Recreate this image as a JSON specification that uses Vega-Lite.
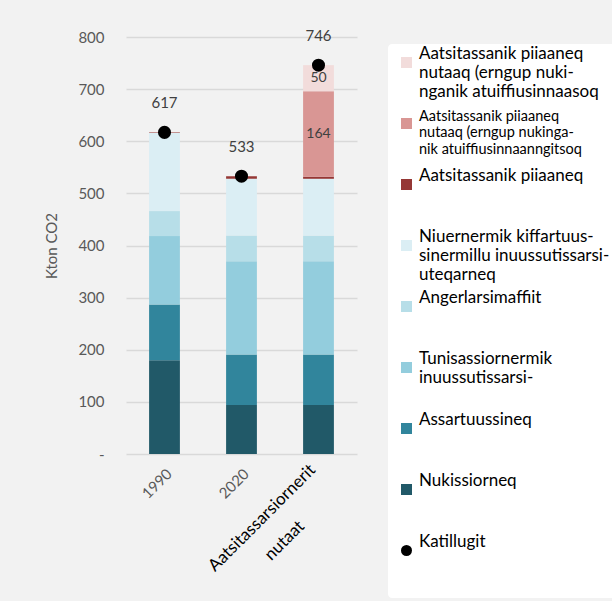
{
  "$schema": "https://vega.github.io/schema/vega-lite/v6.json",
  "width": 231,
  "height": 417,
  "autosize": {"type": "none"},
  "padding": {"left": 126, "top": 37, "right": 255, "bottom": 147},
  "background": "#f2f2f2",
  "config": {"font": "Lato", "view": {"stroke": null}},
  "datasets": {
    "bars": [
      {"cat": "1990", "series": "Nukissiorneq", "k": 1, "value": 180},
      {"cat": "1990", "series": "Assartuussineq", "k": 2, "value": 107},
      {"cat": "1990", "series": "Tunisassiornermik inuussutissarsi-", "k": 3, "value": 131},
      {"cat": "1990", "series": "Angerlarsimaffiit", "k": 4, "value": 48},
      {"cat": "1990", "series": "Niuernermik kiffartuussinermillu inuussutissarsiuteqarneq", "k": 5, "value": 150},
      {"cat": "1990", "series": "Aatsitassanik piiaaneq", "k": 6, "value": 1},
      {"cat": "2020", "series": "Nukissiorneq", "k": 1, "value": 94},
      {"cat": "2020", "series": "Assartuussineq", "k": 2, "value": 97},
      {"cat": "2020", "series": "Tunisassiornermik inuussutissarsi-", "k": 3, "value": 179},
      {"cat": "2020", "series": "Angerlarsimaffiit", "k": 4, "value": 49},
      {"cat": "2020", "series": "Niuernermik kiffartuussinermillu inuussutissarsiuteqarneq", "k": 5, "value": 109},
      {"cat": "2020", "series": "Aatsitassanik piiaaneq", "k": 6, "value": 5},
      {"cat": "Aatsitassarsiornerit nutaat", "series": "Nukissiorneq", "k": 1, "value": 94},
      {"cat": "Aatsitassarsiornerit nutaat", "series": "Assartuussineq", "k": 2, "value": 97},
      {"cat": "Aatsitassarsiornerit nutaat", "series": "Tunisassiornermik inuussutissarsi-", "k": 3, "value": 179},
      {"cat": "Aatsitassarsiornerit nutaat", "series": "Angerlarsimaffiit", "k": 4, "value": 49},
      {"cat": "Aatsitassarsiornerit nutaat", "series": "Niuernermik kiffartuussinermillu inuussutissarsiuteqarneq", "k": 5, "value": 109},
      {"cat": "Aatsitassarsiornerit nutaat", "series": "Aatsitassanik piiaaneq", "k": 6, "value": 4},
      {"cat": "Aatsitassarsiornerit nutaat", "series": "Aatsitassanik piiaaneq nutaaq (erngup nukinganik atuiffiusinnaanngitsoq", "k": 7, "value": 164},
      {"cat": "Aatsitassarsiornerit nutaat", "series": "Aatsitassanik piiaaneq nutaaq (erngup nukinganik atuiffiusinnaasoq", "k": 8, "value": 50}
    ],
    "totals": [
      {"cat": "1990", "series": "Katillugit", "total": 617},
      {"cat": "2020", "series": "Katillugit", "total": 533},
      {"cat": "Aatsitassarsiornerit nutaat", "series": "Katillugit", "total": 746}
    ]
  },
  "layer": [
    {
      "data": {"name": "bars"},
      "mark": {"type": "bar"},
      "encoding": {
        "x": {
          "field": "cat", "type": "nominal", "title": null,
          "sort": ["1990", "2020", "Aatsitassarsiornerit nutaat"],
          "scale": {"paddingInner": 0.6, "paddingOuter": 0.3},
          "axis": {
            "labelAngle": -45, "domain": false, "ticks": false,
            "labelLineHeight": 32, "labelOverlap": false, "labelBound": false, "labelLimit": 400,
            "labelExpr": "datum.value == 'Aatsitassarsiornerit nutaat' ? ['Aatsitassarsiornerit', 'nutaat'] : datum.label",
            "labelFontSize": {"condition": {"test": "datum.value == 'Aatsitassarsiornerit nutaat'", "value": 17}, "value": 15},
            "labelColor": {"condition": {"test": "datum.value == 'Aatsitassarsiornerit nutaat'", "value": "#000000"}, "value": "#595959"},
            "labelAlign": {"condition": {"test": "datum.value == 'Aatsitassarsiornerit nutaat'", "value": "center"}, "value": "right"},
            "labelOffset": {"condition": {"test": "datum.value == 'Aatsitassarsiornerit nutaat'", "value": -62}, "value": 0},
            "labelPadding": {"condition": {"test": "datum.value == 'Aatsitassarsiornerit nutaat'", "value": 58}, "value": 12}
          }
        },
        "y": {
          "field": "value", "type": "quantitative", "stack": "zero", "title": "Kton CO2",
          "scale": {"domain": [0, 800], "nice": false},
          "axis": {
            "domain": false, "ticks": false, "grid": true, "gridColor": "#d9d9d9", "gridWidth": 1.5,
            "values": [0, 100, 200, 300, 400, 500, 600, 700, 800],
            "labelFontSize": 15, "labelColor": "#595959", "labelPadding": 22,
            "labelExpr": "datum.value == 0 ? '-' : datum.label",
            "titleFontSize": 15, "titleFontWeight": "normal", "titleColor": "#595959", "titlePadding": 18
          }
        },
        "color": {
          "field": "series", "type": "nominal",
          "scale": {
            "domain": [
              "Aatsitassanik piiaaneq nutaaq (erngup nukinganik atuiffiusinnaasoq",
              "Aatsitassanik piiaaneq nutaaq (erngup nukinganik atuiffiusinnaanngitsoq",
              "Aatsitassanik piiaaneq",
              "Niuernermik kiffartuussinermillu inuussutissarsiuteqarneq",
              "Angerlarsimaffiit",
              "Tunisassiornermik inuussutissarsi-",
              "Assartuussineq",
              "Nukissiorneq",
              "Katillugit"
            ],
            "range": ["#f2dcdb", "#d99694", "#953735", "#dbeef4", "#b7dee8", "#93cddd", "#31859c", "#215968", "#000000"]
          },
          "legend": {
            "title": null, "orient": "none", "legendX": 262, "legendY": 7, "padding": 10, "gridAlign": "all",
            "fillColor": "#ffffff", "cornerRadius": 4, "symbolSize": 121, "symbolStrokeWidth": 0,
            "labelFontSize": {"expr": "datum.value == 'Aatsitassanik piiaaneq nutaaq (erngup nukinganik atuiffiusinnaanngitsoq' ? 14.5 : 17"},
            "labelBaseline": "bottom",
            "labelColor": "#000000", "labelOffset": 4, "labelLimit": 300, "rowPadding": 5,
            "labelExpr": "datum.label == 'Aatsitassanik piiaaneq nutaaq (erngup nukinganik atuiffiusinnaasoq' ? ['Aatsitassanik piiaaneq', 'nutaaq (erngup nuki-', 'nganik atuiffiusinnaasoq'] : datum.label == 'Aatsitassanik piiaaneq nutaaq (erngup nukinganik atuiffiusinnaanngitsoq' ? ['Aatsitassanik piiaaneq', 'nutaaq (erngup nukinga-', 'nik atuiffiusinnaanngitsoq'] : datum.label == 'Niuernermik kiffartuussinermillu inuussutissarsiuteqarneq' ? ['Niuernermik kiffartuus-', 'sinermillu inuussutissarsi-', 'uteqarneq'] : datum.label == 'Tunisassiornermik inuussutissarsi-' ? ['Tunisassiornermik', 'inuussutissarsi-', ''] : [datum.label, '', '']"
          }
        },
        "order": {"field": "k", "type": "quantitative"}
      }
    },
    {
      "data": {"name": "totals"},
      "mark": {"type": "point", "filled": true, "size": 170, "opacity": 1},
      "encoding": {
        "x": {"field": "cat", "type": "nominal", "title": null, "sort": ["1990", "2020", "Aatsitassarsiornerit nutaat"]},
        "y": {"field": "total", "type": "quantitative", "title": "Kton CO2"},
        "color": {
          "field": "series", "type": "nominal",
          "legend": {
            "title": null, "orient": "none", "legendX": 262, "legendY": 7, "padding": 10, "gridAlign": "all",
            "fillColor": "#ffffff", "cornerRadius": 4, "symbolSize": 121, "symbolStrokeWidth": 0,
            "labelFontSize": {"expr": "datum.value == 'Aatsitassanik piiaaneq nutaaq (erngup nukinganik atuiffiusinnaanngitsoq' ? 14.5 : 17"},
            "labelBaseline": "bottom",
            "labelColor": "#000000", "labelOffset": 4, "labelLimit": 300, "rowPadding": 5,
            "labelExpr": "datum.label == 'Aatsitassanik piiaaneq nutaaq (erngup nukinganik atuiffiusinnaasoq' ? ['Aatsitassanik piiaaneq', 'nutaaq (erngup nuki-', 'nganik atuiffiusinnaasoq'] : datum.label == 'Aatsitassanik piiaaneq nutaaq (erngup nukinganik atuiffiusinnaanngitsoq' ? ['Aatsitassanik piiaaneq', 'nutaaq (erngup nukinga-', 'nik atuiffiusinnaanngitsoq'] : datum.label == 'Niuernermik kiffartuussinermillu inuussutissarsiuteqarneq' ? ['Niuernermik kiffartuus-', 'sinermillu inuussutissarsi-', 'uteqarneq'] : datum.label == 'Tunisassiornermik inuussutissarsi-' ? ['Tunisassiornermik', 'inuussutissarsi-', ''] : [datum.label, '', '']"
          }
        },
        "shape": {
          "field": "series", "type": "nominal",
          "scale": {
            "domain": [
              "Aatsitassanik piiaaneq nutaaq (erngup nukinganik atuiffiusinnaasoq",
              "Aatsitassanik piiaaneq nutaaq (erngup nukinganik atuiffiusinnaanngitsoq",
              "Aatsitassanik piiaaneq",
              "Niuernermik kiffartuussinermillu inuussutissarsiuteqarneq",
              "Angerlarsimaffiit",
              "Tunisassiornermik inuussutissarsi-",
              "Assartuussineq",
              "Nukissiorneq",
              "Katillugit"
            ],
            "range": ["square", "square", "square", "square", "square", "square", "square", "square", "circle"]
          },
          "legend": {
            "title": null, "orient": "none", "legendX": 262, "legendY": 7, "padding": 10, "gridAlign": "all",
            "fillColor": "#ffffff", "cornerRadius": 4, "symbolSize": 121, "symbolStrokeWidth": 0,
            "labelFontSize": {"expr": "datum.value == 'Aatsitassanik piiaaneq nutaaq (erngup nukinganik atuiffiusinnaanngitsoq' ? 14.5 : 17"},
            "labelBaseline": "bottom",
            "labelColor": "#000000", "labelOffset": 4, "labelLimit": 300, "rowPadding": 5,
            "labelExpr": "datum.label == 'Aatsitassanik piiaaneq nutaaq (erngup nukinganik atuiffiusinnaasoq' ? ['Aatsitassanik piiaaneq', 'nutaaq (erngup nuki-', 'nganik atuiffiusinnaasoq'] : datum.label == 'Aatsitassanik piiaaneq nutaaq (erngup nukinganik atuiffiusinnaanngitsoq' ? ['Aatsitassanik piiaaneq', 'nutaaq (erngup nukinga-', 'nik atuiffiusinnaanngitsoq'] : datum.label == 'Niuernermik kiffartuussinermillu inuussutissarsiuteqarneq' ? ['Niuernermik kiffartuus-', 'sinermillu inuussutissarsi-', 'uteqarneq'] : datum.label == 'Tunisassiornermik inuussutissarsi-' ? ['Tunisassiornermik', 'inuussutissarsi-', ''] : [datum.label, '', '']"
          }
        }
      }
    },
    {
      "data": {"name": "totals"},
      "mark": {"type": "text", "dy": -29, "fontSize": 15, "color": "#404040", "baseline": "middle"},
      "encoding": {
        "x": {"field": "cat", "type": "nominal", "title": null, "sort": ["1990", "2020", "Aatsitassarsiornerit nutaat"]},
        "y": {"field": "total", "type": "quantitative", "title": "Kton CO2"},
        "text": {"field": "total", "type": "quantitative"}
      }
    },
    {
      "data": {"name": "bars"},
      "mark": {"type": "text", "dy": 13, "fontSize": 14, "color": "#404040", "baseline": "middle"},
      "encoding": {
        "x": {"field": "cat", "type": "nominal", "title": null, "sort": ["1990", "2020", "Aatsitassarsiornerit nutaat"]},
        "y": {"field": "value", "type": "quantitative", "stack": "zero", "title": "Kton CO2"},
        "detail": {"field": "series", "type": "nominal"},
        "order": {"field": "k", "type": "quantitative"},
        "text": {"condition": {"test": "datum.k == 8", "field": "value", "type": "quantitative"}, "value": ""}
      }
    },
    {
      "data": {"name": "bars"},
      "mark": {"type": "text", "dy": 43, "fontSize": 14, "color": "#404040", "baseline": "middle"},
      "encoding": {
        "x": {"field": "cat", "type": "nominal", "title": null, "sort": ["1990", "2020", "Aatsitassarsiornerit nutaat"]},
        "y": {"field": "value", "type": "quantitative", "stack": "zero", "title": "Kton CO2"},
        "detail": {"field": "series", "type": "nominal"},
        "order": {"field": "k", "type": "quantitative"},
        "text": {"condition": {"test": "datum.k == 7", "field": "value", "type": "quantitative"}, "value": ""}
      }
    }
  ]
}
